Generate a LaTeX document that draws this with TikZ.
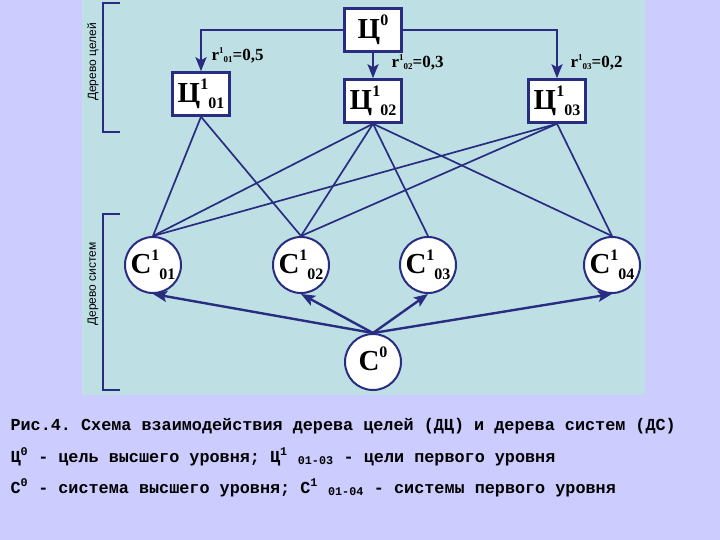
\documentclass[tikz,border=0pt]{standalone}
\usepackage{fontspec}
\setmainfont{Liberation Serif}
\setsansfont{Liberation Sans}
\setmonofont{Liberation Mono}
\usetikzlibrary{arrows.meta}
\usepackage{xcolor}
\definecolor{navy}{RGB}{40,45,130}
\definecolor{panel}{RGB}{190,224,228}
\definecolor{lilac}{RGB}{204,204,255}
\newcommand{\glab}[3]{\textbf{#1}\raisebox{1.0ex}{\fontsize{16}{16}\selectfont\textbf{#2}}\raisebox{-0.45ex}{\fontsize{16}{16}\selectfont\textbf{#3}}}
\newcommand{\rlab}[2]{\textbf{r}\raisebox{0.9ex}{\fontsize{9}{9}\selectfont\textbf{1}}\raisebox{-0.35ex}{\fontsize{9}{9}\selectfont\textbf{#1}}\textbf{=#2}}

\begin{document}
\begin{tikzpicture}[x=1pt,y=-1pt,>={Stealth[length=14pt,width=11pt,inset=3pt]},
  goal/.style={draw=navy,line width=2.5pt,fill=white,minimum width=57pt,minimum height=43pt,inner sep=0pt,font=\fontsize{29}{29}\selectfont},
  sys/.style={circle,draw=navy,line width=2pt,fill=white,minimum size=56pt,inner sep=0pt,font=\fontsize{29}{29}\selectfont},
  link/.style={navy,line width=1.7pt},
  feed/.style={navy,line width=2.4pt,->},
  side/.style={rotate=90,font=\sffamily\fontsize{12}{12}\selectfont},
  capline/.style={anchor=base west,font=\ttfamily\bfseries\fontsize{16.8}{18}\selectfont}]
\useasboundingbox (0,0) rectangle (720,540);
\fill[lilac] (0,0) rectangle (720,540);
\fill[panel] (82,0) rectangle (645,395);
\draw[navy,line width=2pt] (120,3) -- (103,3) -- (103,132) -- (120,132);
\draw[navy,line width=2pt] (120,214) -- (103,214) -- (103,390) -- (120,390);
\node[side] (tgoal) at (93,62) {Дерево целей};
\node[side] (tsys) at (93,284) {Дерево систем};

\node[goal] (z0) at (373,30) {\glab{Ц}{0}{}};
\node[goal] (z01) at (201,94) {\glab{Ц}{1}{01}};
\node[goal] (z02) at (373,101) {\glab{Ц}{1}{02}};
\node[goal] (z03) at (557,101) {\glab{Ц}{1}{03}};

\node[sys] (s01) at (153,265) {\glab{С}{1}{01}};
\node[sys] (s02) at (301,265) {\glab{С}{1}{02}};
\node[sys] (s03) at (428,265) {\glab{С}{1}{03}};
\node[sys] (s04) at (612,265) {\glab{С}{1}{04}};
\node[sys] (s0) at (373,362) {\glab{С}{0}{}};

\draw[feed] (z0.west) -| (z01.north);
\draw[feed] (z0.south) -- (z02.north);
\draw[feed] (z0.east) -| (z03.north);
\node[anchor=west,font=\fontsize{17}{17}\selectfont] (r01) at (208,55) {\rlab{01}{0,5}};
\node[anchor=west,font=\fontsize{17}{17}\selectfont] (r02) at (388,62) {\rlab{02}{0,3}};
\node[anchor=west,font=\fontsize{17}{17}\selectfont] (r03) at (567,62) {\rlab{03}{0,2}};

\foreach \a/\b in {z01/s01,z01/s02,z02/s01,z02/s02,z02/s03,z02/s04,z03/s01,z03/s02,z03/s04}
  \draw[link] (\a.south) -- (\b.north);
\foreach \b in {s01,s02,s03,s04}
  \draw[feed] (s0.north) -- (\b.south);

\node[capline] (cap1) at (7,430) {Рис.4. Схема взаимодействия дерева целей (ДЦ) и дерева систем (ДС)};
\node[capline] (cap2) at (7,462) {Ц\textsuperscript{0} - цель высшего уровня; Ц\textsuperscript{1} \textsubscript{01-03} - цели первого уровня};
\node[capline] (cap3) at (7,493) {С\textsuperscript{0} - система высшего уровня; С\textsuperscript{1} \textsubscript{01-04} - системы первого уровня};
\end{tikzpicture}
\end{document}
